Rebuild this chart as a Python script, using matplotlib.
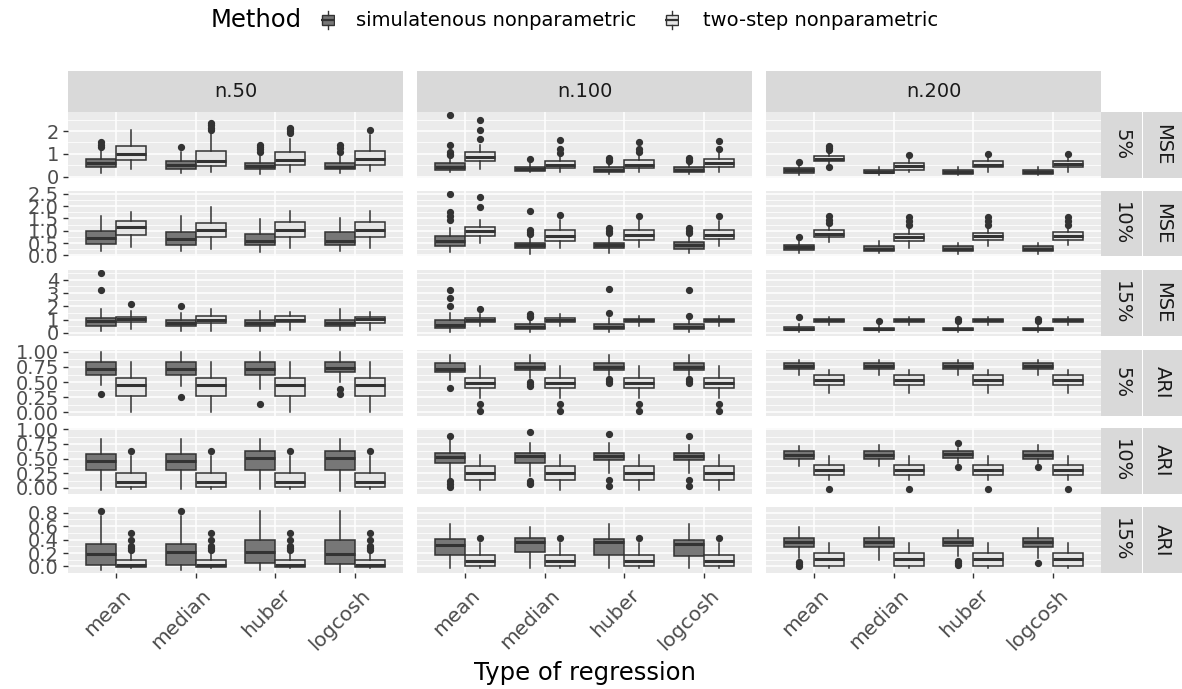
import matplotlib
matplotlib.use("Agg")
import matplotlib.pyplot as plt
from matplotlib.ticker import MultipleLocator, FormatStrFormatter
from matplotlib.transforms import blended_transform_factory, ScaledTranslation
from matplotlib.patches import Rectangle

W, H, DPI = 1182, 689, 100

regressions = ["mean", "median", "huber", "logcosh"]
methods = ["simulatenous nonparametric", "two-step nonparametric"]
sizes = ["n.50", "n.100", "n.200"]
pcts = ["5%", "10%", "15%", "5%", "10%", "15%"]
metrics = ["MSE", "MSE", "MSE", "ARI", "ARI", "ARI"]

# box stats: (lower whisker, q1, median, q3, upper whisker, outliers)
# per panel: mean sim, mean two-step, median sim, median two-step, huber ..., logcosh ...
mse5_n50 = [
    (0.16, 0.41, 0.59, 0.79, 1.20, [1.30, 1.40, 1.50]),
    (0.34, 0.74, 1.01, 1.33, 2.04, []),
    (0.15, 0.34, 0.50, 0.68, 1.08, [1.28]),
    (0.22, 0.47, 0.67, 1.11, 1.90, [2.04, 2.15, 2.25, 2.34]),
    (0.12, 0.33, 0.46, 0.61, 1.00, [1.10, 1.20, 1.30, 1.40]),
    (0.22, 0.53, 0.74, 1.07, 1.67, [1.92, 2.00, 2.08, 2.15]),
    (0.16, 0.33, 0.44, 0.59, 1.00, [1.10, 1.25, 1.40]),
    (0.25, 0.53, 0.78, 1.11, 1.85, [2.04]),
]
mse5_n100 = [
    (0.19, 0.30, 0.44, 0.59, 0.78, [0.93, 1.00, 1.08, 1.38, 2.71]),
    (0.34, 0.68, 0.86, 1.08, 1.38, [1.64, 2.07, 2.49]),
    (0.19, 0.24, 0.33, 0.44, 0.64, [0.78]),
    (0.19, 0.39, 0.53, 0.67, 0.93, [1.05, 1.23, 1.60]),
    (0.12, 0.21, 0.31, 0.41, 0.64, [0.70, 0.75, 0.80]),
    (0.19, 0.39, 0.53, 0.71, 1.00, [1.10, 1.20, 1.52]),
    (0.12, 0.21, 0.31, 0.41, 0.64, [0.70, 0.75, 0.80]),
    (0.19, 0.44, 0.61, 0.76, 1.08, [1.23, 1.57]),
]
mse5_n200 = [
    (0.09, 0.16, 0.27, 0.37, 0.49, [0.64]),
    (0.56, 0.67, 0.78, 0.89, 1.08, [0.41, 1.15, 1.25, 1.35]),
    (0.09, 0.15, 0.22, 0.31, 0.41, []),
    (0.19, 0.31, 0.46, 0.59, 0.79, [0.96]),
    (0.08, 0.13, 0.21, 0.28, 0.41, []),
    (0.19, 0.41, 0.53, 0.68, 0.83, [1.00]),
    (0.08, 0.13, 0.21, 0.28, 0.41, []),
    (0.19, 0.41, 0.56, 0.68, 0.86, [1.00]),
]
mse10_n50 = [
    (0.19, 0.47, 0.70, 0.97, 1.61, []),
    (0.34, 0.81, 1.17, 1.40, 1.78, []),
    (0.16, 0.43, 0.66, 0.93, 1.61, []),
    (0.26, 0.73, 1.04, 1.31, 1.96, []),
    (0.14, 0.42, 0.57, 0.88, 1.49, []),
    (0.30, 0.73, 1.03, 1.35, 1.81, []),
    (0.16, 0.43, 0.57, 0.93, 1.51, []),
    (0.30, 0.74, 1.04, 1.34, 1.81, []),
]
mse10_n100 = [
    (0.14, 0.36, 0.57, 0.77, 1.11, [1.45, 1.60, 1.75, 2.48]),
    (0.50, 0.77, 0.97, 1.15, 1.44, [1.98, 2.39]),
    (0.07, 0.30, 0.41, 0.50, 0.77, [0.85, 0.95, 1.05, 1.82]),
    (0.30, 0.59, 0.80, 1.01, 1.44, [1.65]),
    (0.09, 0.30, 0.41, 0.50, 0.77, [0.90, 1.00, 1.10]),
    (0.34, 0.63, 0.83, 1.01, 1.43, [1.61]),
    (0.09, 0.27, 0.41, 0.54, 0.77, [0.90, 1.00, 1.10]),
    (0.36, 0.66, 0.83, 1.04, 1.38, [1.61]),
]
mse10_n200 = [
    (0.10, 0.23, 0.34, 0.43, 0.64, [0.74]),
    (0.53, 0.74, 0.88, 1.01, 1.20, [1.31, 1.45, 1.60]),
    (0.10, 0.16, 0.27, 0.36, 0.57, []),
    (0.30, 0.57, 0.73, 0.88, 1.07, [1.25, 1.40, 1.55]),
    (0.07, 0.16, 0.27, 0.36, 0.50, []),
    (0.39, 0.61, 0.77, 0.91, 1.17, [1.25, 1.40, 1.55]),
    (0.07, 0.16, 0.27, 0.36, 0.50, []),
    (0.40, 0.61, 0.80, 0.94, 1.17, [1.25, 1.40, 1.55]),
]
mse15_n50 = [
    (0.17, 0.54, 0.86, 1.11, 1.83, [3.26, 4.50]),
    (0.30, 0.79, 1.04, 1.21, 1.65, [2.20]),
    (0.17, 0.50, 0.74, 0.99, 1.46, [2.02]),
    (0.15, 0.74, 0.99, 1.24, 1.83, []),
    (0.17, 0.50, 0.72, 0.99, 1.65, []),
    (0.25, 0.79, 0.99, 1.24, 1.58, []),
    (0.25, 0.54, 0.74, 0.99, 1.80, []),
    (0.25, 0.74, 1.01, 1.21, 1.58, []),
]
mse15_n100 = [
    (0.10, 0.35, 0.60, 0.95, 1.50, [2.00, 2.60, 3.20]),
    (0.50, 0.80, 0.95, 1.10, 1.40, [1.80]),
    (0.10, 0.30, 0.45, 0.65, 1.00, [1.20, 1.30, 1.45]),
    (0.50, 0.80, 0.95, 1.10, 1.40, []),
    (0.10, 0.30, 0.45, 0.70, 1.10, [1.50, 3.30]),
    (0.50, 0.80, 0.95, 1.05, 1.30, []),
    (0.10, 0.30, 0.45, 0.70, 1.10, [1.30, 3.20]),
    (0.50, 0.80, 0.95, 1.05, 1.30, []),
]
mse15_n200 = [
    (0.05, 0.20, 0.30, 0.45, 0.70, [1.20]),
    (0.60, 0.85, 0.95, 1.05, 1.20, []),
    (0.05, 0.18, 0.27, 0.38, 0.60, [0.90]),
    (0.60, 0.82, 0.95, 1.05, 1.20, []),
    (0.05, 0.18, 0.27, 0.40, 0.65, [0.90, 1.05]),
    (0.60, 0.82, 0.95, 1.05, 1.20, []),
    (0.05, 0.18, 0.27, 0.40, 0.65, [0.90, 1.05]),
    (0.60, 0.82, 0.95, 1.05, 1.20, []),
]
ari5_n50 = [
    (0.45, 0.62, 0.71, 0.83, 0.99, [0.30]),
    (0.00, 0.27, 0.445, 0.57, 0.83, []),
    (0.44, 0.62, 0.71, 0.83, 0.99, [0.25]),
    (0.00, 0.27, 0.445, 0.57, 0.83, []),
    (0.39, 0.62, 0.71, 0.83, 0.99, [0.14]),
    (0.00, 0.27, 0.445, 0.57, 0.83, []),
    (0.50, 0.66, 0.74, 0.83, 0.99, [0.30, 0.39]),
    (0.00, 0.27, 0.445, 0.57, 0.83, []),
]
ari5_n100 = [
    (0.53, 0.66, 0.72, 0.81, 0.945, [0.40]),
    (0.24, 0.40, 0.49, 0.57, 0.76, [0.03, 0.14]),
    (0.57, 0.70, 0.75, 0.81, 0.945, [0.43, 0.47, 0.51]),
    (0.24, 0.40, 0.49, 0.57, 0.76, [0.03, 0.14]),
    (0.61, 0.70, 0.75, 0.81, 0.945, [0.49, 0.52, 0.55]),
    (0.24, 0.40, 0.49, 0.57, 0.76, [0.03, 0.14]),
    (0.61, 0.70, 0.75, 0.81, 0.945, [0.49, 0.52, 0.55]),
    (0.24, 0.40, 0.49, 0.57, 0.76, [0.03, 0.14]),
]
ari5_n200 = [
    (0.62, 0.71, 0.76, 0.81, 0.86, []),
    (0.32, 0.46, 0.53, 0.61, 0.70, []),
    (0.62, 0.71, 0.76, 0.81, 0.86, []),
    (0.32, 0.46, 0.53, 0.61, 0.70, []),
    (0.62, 0.71, 0.76, 0.81, 0.86, []),
    (0.32, 0.46, 0.53, 0.61, 0.70, []),
    (0.62, 0.71, 0.76, 0.81, 0.86, []),
    (0.32, 0.46, 0.53, 0.61, 0.70, []),
]
ari10_n50 = [
    (-0.04, 0.30, 0.46, 0.58, 0.83, []),
    (-0.02, 0.02, 0.095, 0.25, 0.55, [0.63]),
    (-0.02, 0.30, 0.46, 0.58, 0.83, []),
    (-0.02, 0.02, 0.095, 0.25, 0.55, [0.63]),
    (-0.02, 0.30, 0.51, 0.63, 0.83, []),
    (-0.02, 0.02, 0.095, 0.25, 0.55, [0.63]),
    (-0.06, 0.30, 0.51, 0.63, 0.83, []),
    (-0.02, 0.02, 0.095, 0.25, 0.55, [0.63]),
]
ari10_n100 = [
    (0.14, 0.42, 0.53, 0.59, 0.82, [0.02, 0.06, 0.11, 0.89]),
    (-0.03, 0.14, 0.25, 0.37, 0.56, []),
    (0.20, 0.43, 0.54, 0.60, 0.76, [0.06, 0.09, 0.12, 0.96]),
    (-0.03, 0.14, 0.25, 0.37, 0.56, []),
    (0.25, 0.47, 0.55, 0.60, 0.77, [0.04, 0.14, 0.92]),
    (-0.03, 0.14, 0.25, 0.37, 0.56, []),
    (0.25, 0.47, 0.54, 0.60, 0.73, [0.04, 0.14, 0.89]),
    (-0.03, 0.14, 0.25, 0.37, 0.56, []),
]
ari10_n200 = [
    (0.38, 0.50, 0.56, 0.63, 0.72, []),
    (0.14, 0.225, 0.31, 0.39, 0.54, [-0.01]),
    (0.38, 0.50, 0.56, 0.63, 0.73, []),
    (0.14, 0.225, 0.31, 0.39, 0.54, [-0.01]),
    (0.42, 0.51, 0.58, 0.63, 0.68, [0.36, 0.76]),
    (0.14, 0.225, 0.31, 0.39, 0.54, [-0.01]),
    (0.42, 0.50, 0.56, 0.63, 0.73, [0.36]),
    (0.14, 0.225, 0.31, 0.39, 0.54, [-0.01]),
]
ari15_n50 = [
    (-0.05, 0.015, 0.18, 0.34, 0.75, [0.83]),
    (-0.02, -0.01, 0.025, 0.09, 0.22, [0.25, 0.28, 0.30, 0.39, 0.50]),
    (-0.05, 0.025, 0.21, 0.34, 0.75, [0.83]),
    (-0.02, -0.01, 0.025, 0.09, 0.22, [0.25, 0.28, 0.30, 0.39, 0.50]),
    (-0.05, 0.05, 0.22, 0.395, 0.83, []),
    (-0.02, -0.01, 0.025, 0.09, 0.22, [0.25, 0.28, 0.30, 0.39, 0.50]),
    (-0.09, 0.035, 0.19, 0.395, 0.83, []),
    (-0.02, -0.01, 0.025, 0.09, 0.22, [0.25, 0.28, 0.30, 0.39, 0.50]),
]
ari15_n100 = [
    (-0.02, 0.17, 0.32, 0.41, 0.63, []),
    (-0.03, 0.00, 0.085, 0.17, 0.35, [0.42]),
    (-0.02, 0.21, 0.36, 0.43, 0.59, []),
    (-0.03, 0.00, 0.085, 0.17, 0.35, [0.42]),
    (-0.02, 0.17, 0.36, 0.41, 0.63, []),
    (-0.03, 0.00, 0.085, 0.17, 0.35, [0.42]),
    (-0.03, 0.16, 0.335, 0.395, 0.63, []),
    (-0.03, 0.00, 0.085, 0.17, 0.35, [0.42]),
]
ari15_n200 = [
    (0.12, 0.29, 0.37, 0.43, 0.59, [0.00, 0.03, 0.07]),
    (-0.02, 0.01, 0.115, 0.20, 0.35, []),
    (0.09, 0.29, 0.37, 0.43, 0.59, []),
    (-0.02, 0.01, 0.115, 0.20, 0.35, []),
    (0.15, 0.305, 0.37, 0.42, 0.55, [0.02, 0.05, 0.08]),
    (-0.02, 0.01, 0.115, 0.20, 0.35, []),
    (0.12, 0.29, 0.37, 0.43, 0.57, [0.05]),
    (-0.02, 0.01, 0.115, 0.20, 0.35, []),
]

rows = [
    [mse5_n50, mse5_n100, mse5_n200],
    [mse10_n50, mse10_n100, mse10_n200],
    [mse15_n50, mse15_n100, mse15_n200],
    [ari5_n50, ari5_n100, ari5_n200],
    [ari10_n50, ari10_n100, ari10_n200],
    [ari15_n50, ari15_n100, ari15_n200],
]
row_ylim = [(-0.04, 2.84), (-0.05, 2.62), (-0.2, 4.74),
            (-0.05, 1.03), (-0.095, 1.02), (-0.09, 0.885)]
row_step = [1, 0.5, 1, 0.25, 0.25, 0.2]
row_fmt = ["%d", "%.1f", "%d", "%.2f", "%.2f", "%.1f"]

fills = ["#777777", "#E6E6E6"]
edge = "#333333"
strip_bg = "#D9D9D9"

fig = plt.figure(figsize=(W / DPI, H / DPI), dpi=DPI)


def px_axes(left, top, width, height):
    return fig.add_axes([left / W, 1 - (top + height) / H, width / W, height / H])


def strip_axes(left, top, width, height, label, rot=0):
    sax = px_axes(left, top, width, height)
    sax.set_facecolor(strip_bg)
    sax.set_xticks([])
    sax.set_yticks([])
    for s in sax.spines.values():
        s.set_visible(False)
    sax.text(0.5, 0.5, label, transform=sax.transAxes, ha="center", va="center",
             rotation=rot, fontsize=14, color="#1A1A1A")
    return sax


col_left = [68, 417, 766]
row_top = [112, 191, 270, 350, 428, 507]
panel_w, panel_h = 335, 65.5

for r, panels in enumerate(rows):
    for c, boxes in enumerate(panels):
        ax = px_axes(col_left[c], row_top[r], panel_w, panel_h)
        ax.set_facecolor("#EBEBEB")
        for s in ax.spines.values():
            s.set_visible(False)
        ax.set_xlim(0.4, 4.6)
        ax.set_ylim(*row_ylim[r])
        ax.set_xticks(range(1, 5))
        ax.yaxis.set_major_locator(MultipleLocator(row_step[r]))
        ax.yaxis.set_minor_locator(MultipleLocator(row_step[r] / 2))
        ax.yaxis.set_major_formatter(FormatStrFormatter(row_fmt[r]))
        ax.grid(which="major", color="white", linewidth=1.1)
        ax.grid(which="minor", axis="y", color="white", linewidth=0.55)
        ax.set_axisbelow(True)

        stats, positions = [], []
        for i, (lo, q1, med, q3, hi, fl) in enumerate(boxes):
            stats.append(dict(whislo=lo, q1=q1, med=med, q3=q3, whishi=hi, fliers=fl))
            positions.append(i // 2 + 1 + (0.1875 if i % 2 else -0.1875))
        bp = ax.bxp(stats, positions=positions, widths=0.375, patch_artist=True,
                    showcaps=False, manage_ticks=False,
                    boxprops=dict(edgecolor=edge, linewidth=1.1),
                    whiskerprops=dict(color=edge, linewidth=1.1),
                    medianprops=dict(color=edge, linewidth=2.2),
                    flierprops=dict(marker="o", markerfacecolor=edge,
                                    markeredgecolor=edge, markersize=4.2))
        for i, patch in enumerate(bp["boxes"]):
            patch.set_facecolor(fills[i % 2])

        ax.tick_params(which="minor", length=0)
        if c == 0:
            ax.tick_params(axis="y", which="major", length=3.5, width=1, color=edge,
                           labelsize=14, labelcolor="#4D4D4D", pad=3)
        else:
            ax.tick_params(axis="y", which="major", length=0, labelleft=False)
        ax.tick_params(axis="x", labelbottom=False,
                       length=3.5 if r == len(rows) - 1 else 0, width=1, color=edge)
        if r == len(rows) - 1:
            trans = blended_transform_factory(ax.transData, ax.transAxes) + \
                ScaledTranslation(5 / DPI, -13 / DPI, fig.dpi_scale_trans)
            for k, name in enumerate(regressions):
                ax.text(k + 1, 0, name, transform=trans, rotation=45,
                        rotation_mode="anchor", ha="right", va="top",
                        fontsize=14.5, color="#4D4D4D")

    strip_axes(1101, row_top[r], 41, panel_h, pcts[r], rot=-90)
    strip_axes(1143, row_top[r], 39, panel_h, metrics[r], rot=-90)

for c, name in enumerate(sizes):
    strip_axes(col_left[c], 71, panel_w, 41, name)

fig.text(585 / W, 1 - 680 / H, "Type of regression", ha="center", va="baseline",
         fontsize=17.5, color="black")

# legend
fig.text(211 / W, 1 - 20 / H, "Method", ha="left", va="center", fontsize=17.5)
key_left = [321, 665]
label_left = [356, 703]
for k in range(2):
    kax = px_axes(key_left[k], 9, 14, 22)
    kax.set_xlim(0, 1)
    kax.set_ylim(0, 1)
    kax.axis("off")
    kax.plot([0.5, 0.5], [0.08, 0.28], color=edge, lw=1)
    kax.plot([0.5, 0.5], [0.72, 0.92], color=edge, lw=1)
    kax.add_patch(Rectangle((0.08, 0.28), 0.84, 0.44, facecolor=fills[k],
                            edgecolor=edge, lw=1))
    kax.plot([0.08, 0.92], [0.5, 0.5], color=edge, lw=1.6)
    fig.text(label_left[k] / W, 1 - 20 / H, methods[k], ha="left", va="center",
             fontsize=14)

fig.savefig("out.png", dpi=DPI)
